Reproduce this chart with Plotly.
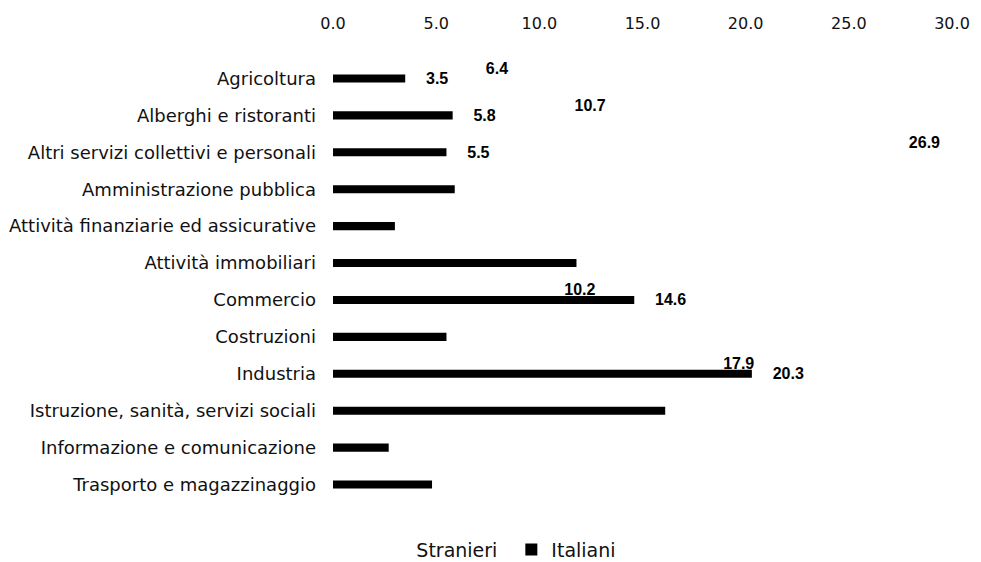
import plotly.graph_objects as go

categories = [
    "Agricoltura",
    "Alberghi e ristoranti",
    "Altri servizi collettivi e personali",
    "Amministrazione pubblica",
    "Attività finanziarie ed assicurative",
    "Attività immobiliari",
    "Commercio",
    "Costruzioni",
    "Industria",
    "Istruzione, sanità, servizi sociali",
    "Informazione e comunicazione",
    "Trasporto e magazzinaggio",
]

# Stranieri: only the labelled values are legible (bars are drawn in white)
stranieri = [6.4, 10.7, 26.9, None, None, None, 10.2, None, 17.9, None, None, None]
stranieri_labels = ["6.4", "10.7", "26.9", "", "", "", "10.2", "", "17.9", "", "", ""]

italiani = [3.5, 5.8, 5.5, 5.9, 3.0, 11.8, 14.6, 5.5, 20.3, 16.1, 2.7, 4.8]
italiani_labels = ["3.5", "5.8", "5.5", "", "", "", "14.6", "", "20.3", "", "", ""]

x_ticks = [0, 5, 10, 15, 20, 25, 30]

label_font = dict(family="Liberation Sans", size=16, color="black", weight="bold")

fig = go.Figure()
fig.add_trace(go.Bar(
    name="Stranieri", y=categories, x=stranieri, orientation="h",
    marker=dict(color="white", line=dict(width=0)),
    width=0.22, offset=-0.38,
    text=stranieri_labels, texttemplate="    %{text}", textposition="outside",
    textfont=label_font, outsidetextfont=label_font, constraintext="none",
    cliponaxis=False,
))
fig.add_trace(go.Bar(
    name="Italiani", y=categories, x=italiani, orientation="h",
    marker=dict(color="black", line=dict(width=0)),
    width=0.22, offset=-0.11,
    text=italiani_labels, texttemplate="    %{text}", textposition="outside",
    textfont=label_font, outsidetextfont=label_font, constraintext="none",
    cliponaxis=False,
))

fig.update_layout(
    width=981, height=562,
    margin=dict(l=325, r=37, t=52, b=67),
    paper_bgcolor="white", plot_bgcolor="white",
    font=dict(family="DejaVu Sans", size=18, color="#111111"),
    barmode="group",
    showlegend=True,
    legend=dict(orientation="h", x=0.07, xanchor="left",
                yref="container", y=0.036, yanchor="middle",
                font=dict(family="DejaVu Sans", size=19), itemwidth=30,
                entrywidth=90, entrywidthmode="pixels",
                traceorder="normal"),
)
fig.update_xaxes(
    side="top", range=[0, 30], tickvals=x_ticks, tickformat=".1f",
    showgrid=False, zeroline=False, showline=False, ticks="",
    ticklabelstandoff=27, automargin=False,
    tickfont=dict(family="DejaVu Sans", size=16),
)
fig.update_yaxes(
    autorange="reversed", showgrid=False, zeroline=False, showline=False,
    ticks="", ticklabelstandoff=16, automargin=False,
    tickfont=dict(family="DejaVu Sans", size=18),
)

fig.write_html("out.html")
